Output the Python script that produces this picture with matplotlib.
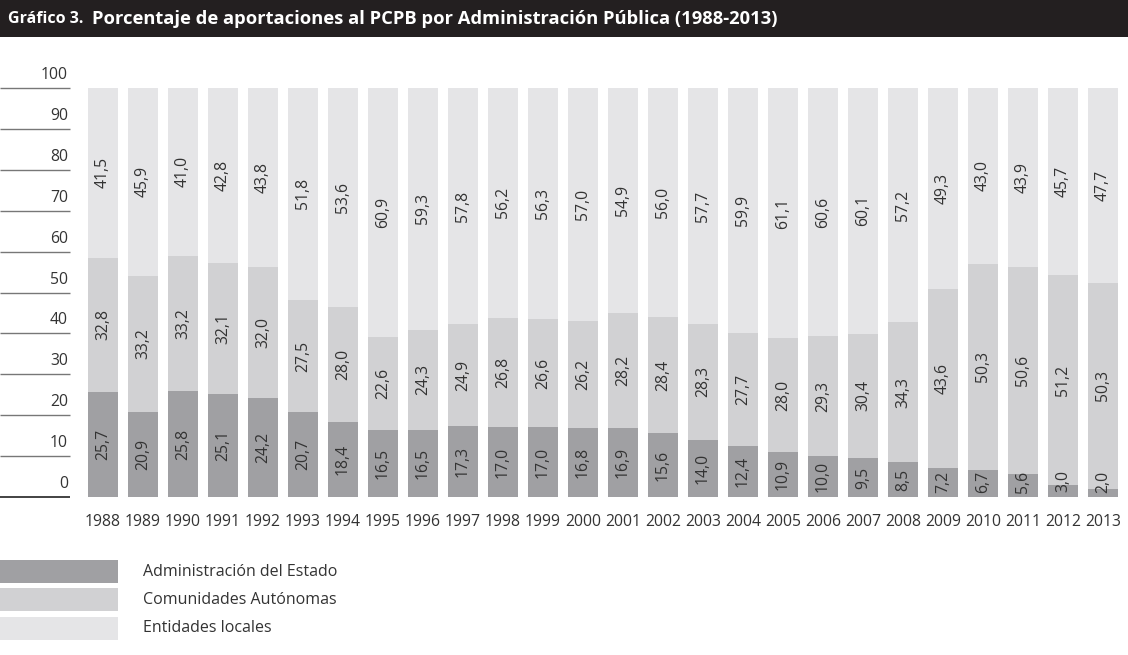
import matplotlib
matplotlib.use("Agg")
import matplotlib.pyplot as plt
from matplotlib.patches import Rectangle

plt.rcParams['font.family'] = ['Open Sans', 'DejaVu Sans']

years = [str(y) for y in range(1988, 2014)]
estado = [25.7, 20.9, 25.8, 25.1, 24.2, 20.7, 18.4, 16.5, 16.5, 17.3, 17.0, 17.0, 16.8,
          16.9, 15.6, 14.0, 12.4, 10.9, 10.0, 9.5, 8.5, 7.2, 6.7, 5.6, 3.0, 2.0]
ccaa = [32.8, 33.2, 33.2, 32.1, 32.0, 27.5, 28.0, 22.6, 24.3, 24.9, 26.8, 26.6, 26.2,
        28.2, 28.4, 28.3, 27.7, 28.0, 29.3, 30.4, 34.3, 43.6, 50.3, 50.6, 51.2, 50.3]
locales = [41.5, 45.9, 41.0, 42.8, 43.8, 51.8, 53.6, 60.9, 59.3, 57.8, 56.2, 56.3, 57.0,
           54.9, 56.0, 57.7, 59.9, 61.1, 60.6, 60.1, 57.2, 49.3, 43.0, 43.9, 45.7, 47.7]
series_names = ["Administración del Estado", "Comunidades Autónomas", "Entidades locales"]
yticks = [0, 10, 20, 30, 40, 50, 60, 70, 80, 90, 100]
title_prefix = "Gráfico 3."
title_main = "Porcentaje de aportaciones al PCPB por Administración Pública (1988-2013)"

colors = ["#a0a0a3", "#d1d1d3", "#e5e5e7"]
text_col = "#333333"
fs = 11.3

W, H = 1128, 655
fig = plt.figure(figsize=(W / 100, H / 100), dpi=100)

# title bar
fig.patches.append(Rectangle((0, 1 - 37 / H), 1, 37 / H, transform=fig.transFigure,
                             facecolor="#231f20", edgecolor="none", zorder=0))
fig.text(8 / W, 1 - 19 / H, title_prefix, color="white", fontsize=11.5,
         fontweight="bold", va="center", ha="left")
fig.text(92 / W, 1 - 19 / H, title_main, color="white", fontsize=13.2,
         fontweight="bold", va="center", ha="left")

# main axes: full width, y 0..100 between px 497 and 88
y0, y100 = 497, 88
ax = fig.add_axes([0, (H - y0) / H, 1, (y0 - y100) / H])
x0c, step = 103, 40
ax.set_xlim(-x0c / step, (W - x0c) / step)
ax.set_ylim(0, 100)
for s in ax.spines.values():
    s.set_visible(False)
ax.set_yticks([])

x = list(range(len(years)))
bw = 30 / step
ax.bar(x, estado, width=bw, color=colors[0], label=series_names[0])
ax.bar(x, ccaa, width=bw, bottom=estado, color=colors[1], label=series_names[1])
bottom3 = [a + b for a, b in zip(estado, ccaa)]
ax.bar(x, locales, width=bw, bottom=bottom3, color=colors[2], label=series_names[2])

def fmt(v):
    return f"{v:.1f}".replace(".", ",")

for i in x:
    ax.text(i, max(estado[i] / 2, 3.8), fmt(estado[i]), rotation=90, ha="center",
            va="center", fontsize=fs, color=text_col)
    ax.text(i, estado[i] + ccaa[i] / 2, fmt(ccaa[i]), rotation=90, ha="center",
            va="center", fontsize=fs, color=text_col)
    ax.text(i, bottom3[i] + locales[i] / 2, fmt(locales[i]), rotation=90, ha="center",
            va="center", fontsize=fs, color=text_col)

# y scale lines and labels on the left
xl = ax.get_xlim()[0]
xr = (70 - x0c) / step
for t in yticks:
    ax.plot([xl, xr], [t, t], color="#222222" if t == 0 else "#777777",
            lw=1.2 if t == 0 else 1.0, solid_capstyle="butt", clip_on=False)
    ax.text((68 - x0c) / step, t + 13 / 4.09, str(t), ha="right", va="center",
            fontsize=fs, color=text_col)

ax.set_xticks(x)
ax.set_xticklabels(years, fontsize=fs, color=text_col)
ax.tick_params(axis="x", length=0, pad=12)

# legend
leg_y = [560, 588, 617]
for k in range(3):
    fig.patches.append(Rectangle((0, 1 - (leg_y[k] + 23) / H), 118 / W, 23 / H,
                                 transform=fig.transFigure, facecolor=colors[k],
                                 edgecolor="none"))
    fig.text(143 / W, 1 - (leg_y[k] + 11.5) / H, series_names[k], fontsize=11.5,
             color=text_col, va="center", ha="left")

fig.savefig("out.png", dpi=100)
